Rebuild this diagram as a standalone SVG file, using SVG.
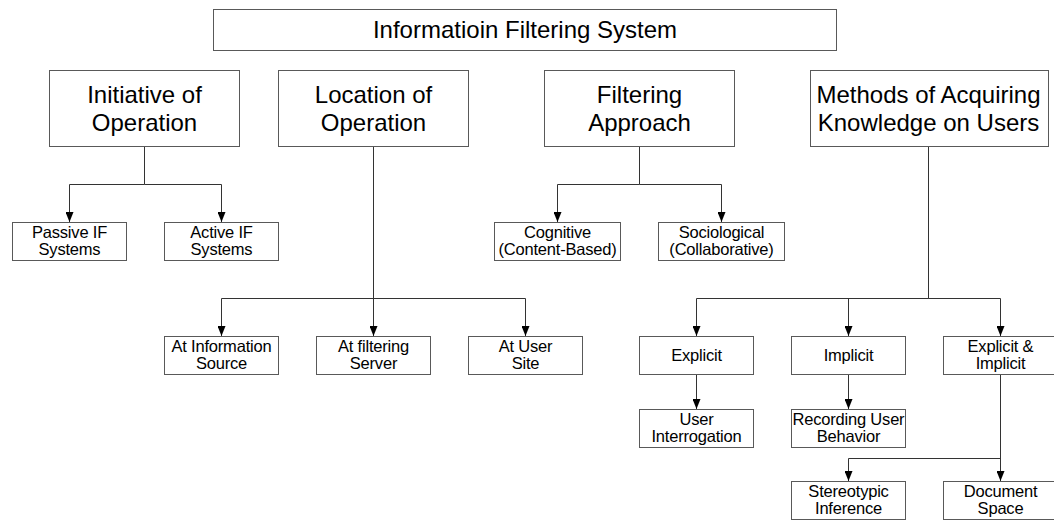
<svg xmlns="http://www.w3.org/2000/svg" width="1054" height="520" viewBox="0 0 1054 520">
  <style>
    .box { fill: #ffffff; stroke: #595959; stroke-width: 1; }
    .lg { font-family: "Liberation Sans", Arial, sans-serif; font-size: 24px; fill: #000; text-anchor: middle; }
    .sm { font-family: "Liberation Sans", Arial, sans-serif; font-size: 16.5px; letter-spacing: -0.2px; fill: #000; text-anchor: middle; }
    .edge { fill: none; stroke: #333333; stroke-width: 1; }
  </style>
  <defs>
    <marker id="arrow" viewBox="0 0 10 8" refX="10" refY="4" markerWidth="10" markerHeight="8" markerUnits="userSpaceOnUse" orient="auto">
      <path d="M0,0 L10,4 L0,8 z" fill="#000"/>
    </marker>
  </defs>
  <rect width="1054" height="520" fill="#ffffff"/>

  <!-- connectors -->
  <g id="connectors">
    <path class="edge" d="M144.5 146.5 V184.5 H69.5 V222" marker-end="url(#arrow)"/>
    <path class="edge" d="M144.5 184.5 H221.5 V222" marker-end="url(#arrow)"/>

    <path class="edge" d="M373.5 146.5 V336" marker-end="url(#arrow)"/>
    <path class="edge" d="M373.5 298.5 H221.5 V336" marker-end="url(#arrow)"/>
    <path class="edge" d="M373.5 298.5 H525.5 V336" marker-end="url(#arrow)"/>

    <path class="edge" d="M639.5 146.5 V184.5 H557.5 V222" marker-end="url(#arrow)"/>
    <path class="edge" d="M639.5 184.5 H721.5 V222" marker-end="url(#arrow)"/>

    <path class="edge" d="M928.5 146.5 V298.5 H696.5 V336" marker-end="url(#arrow)"/>
    <path class="edge" d="M928.5 298.5 H848.5 V336" marker-end="url(#arrow)"/>
    <path class="edge" d="M928.5 298.5 H1000.5 V336" marker-end="url(#arrow)"/>

    <path class="edge" d="M696.5 374.5 V409" marker-end="url(#arrow)"/>
    <path class="edge" d="M848.5 374.5 V409" marker-end="url(#arrow)"/>
    <path class="edge" d="M1000.5 374.5 V481" marker-end="url(#arrow)"/>
    <path class="edge" d="M1000.5 458.5 H848.5 V481" marker-end="url(#arrow)"/>
  </g>

  <!-- root -->
  <g id="root">
    <rect class="box" x="213.5" y="9.5" width="623" height="41"/>
    <text class="lg" x="525" y="38">Informatioin Filtering System</text>
  </g>

  <!-- first level -->
  <g id="initiative">
    <rect class="box" x="49.5" y="70.5" width="190" height="76"/>
    <text class="lg" x="144.5" y="103">Initiative of</text>
    <text class="lg" x="144.5" y="131">Operation</text>
  </g>
  <g id="location">
    <rect class="box" x="278.5" y="70.5" width="190" height="76"/>
    <text class="lg" x="373.5" y="103">Location of</text>
    <text class="lg" x="373.5" y="131">Operation</text>
  </g>
  <g id="approach">
    <rect class="box" x="544.5" y="70.5" width="190" height="76"/>
    <text class="lg" x="639.5" y="103">Filtering</text>
    <text class="lg" x="639.5" y="131">Approach</text>
  </g>
  <g id="methods">
    <rect class="box" x="810.5" y="70.5" width="238" height="76"/>
    <text class="lg" x="928.5" y="103">Methods of Acquiring</text>
    <text class="lg" x="928.5" y="131">Knowledge on Users</text>
  </g>

  <!-- leaves under initiative / approach -->
  <g id="passive">
    <rect class="box" x="12.5" y="222.5" width="114" height="38"/>
    <text class="sm" x="69.5" y="238">Passive IF</text>
    <text class="sm" x="69.5" y="255">Systems</text>
  </g>
  <g id="active">
    <rect class="box" x="164.5" y="222.5" width="114" height="38"/>
    <text class="sm" x="221.5" y="238">Active IF</text>
    <text class="sm" x="221.5" y="255">Systems</text>
  </g>
  <g id="cognitive">
    <rect class="box" x="494.5" y="222.5" width="126" height="38"/>
    <text class="sm" x="557.5" y="238">Cognitive</text>
    <text class="sm" x="557.5" y="255">(Content-Based)</text>
  </g>
  <g id="sociological">
    <rect class="box" x="658.5" y="222.5" width="126" height="38"/>
    <text class="sm" x="721.5" y="238">Sociological</text>
    <text class="sm" x="721.5" y="255">(Collaborative)</text>
  </g>

  <!-- location leaves -->
  <g id="at-source">
    <rect class="box" x="164.5" y="336.5" width="114" height="38"/>
    <text class="sm" x="221.5" y="352">At Information</text>
    <text class="sm" x="221.5" y="369">Source</text>
  </g>
  <g id="at-server">
    <rect class="box" x="316.5" y="336.5" width="114" height="38"/>
    <text class="sm" x="373.5" y="352">At filtering</text>
    <text class="sm" x="373.5" y="369">Server</text>
  </g>
  <g id="at-user">
    <rect class="box" x="468.5" y="336.5" width="114" height="38"/>
    <text class="sm" x="525.5" y="352">At User</text>
    <text class="sm" x="525.5" y="369">Site</text>
  </g>

  <!-- knowledge acquisition methods -->
  <g id="explicit">
    <rect class="box" x="639.5" y="336.5" width="114" height="38"/>
    <text class="sm" x="696.5" y="361">Explicit</text>
  </g>
  <g id="implicit">
    <rect class="box" x="791.5" y="336.5" width="114" height="38"/>
    <text class="sm" x="848.5" y="361">Implicit</text>
  </g>
  <g id="explicit-implicit">
    <rect class="box" x="943.5" y="336.5" width="114" height="38"/>
    <text class="sm" x="1000.5" y="352">Explicit &amp;</text>
    <text class="sm" x="1000.5" y="369">Implicit</text>
  </g>
  <g id="interrogation">
    <rect class="box" x="639.5" y="409.5" width="114" height="38"/>
    <text class="sm" x="696.5" y="425">User</text>
    <text class="sm" x="696.5" y="442">Interrogation</text>
  </g>
  <g id="recording">
    <rect class="box" x="791.5" y="409.5" width="114" height="38"/>
    <text class="sm" x="848.5" y="425">Recording User</text>
    <text class="sm" x="848.5" y="442">Behavior</text>
  </g>
  <g id="stereotypic">
    <rect class="box" x="791.5" y="481.5" width="114" height="38"/>
    <text class="sm" x="848.5" y="497">Stereotypic</text>
    <text class="sm" x="848.5" y="514">Inference</text>
  </g>
  <g id="document">
    <rect class="box" x="943.5" y="481.5" width="114" height="38"/>
    <text class="sm" x="1000.5" y="497">Document</text>
    <text class="sm" x="1000.5" y="514">Space</text>
  </g>
</svg>
